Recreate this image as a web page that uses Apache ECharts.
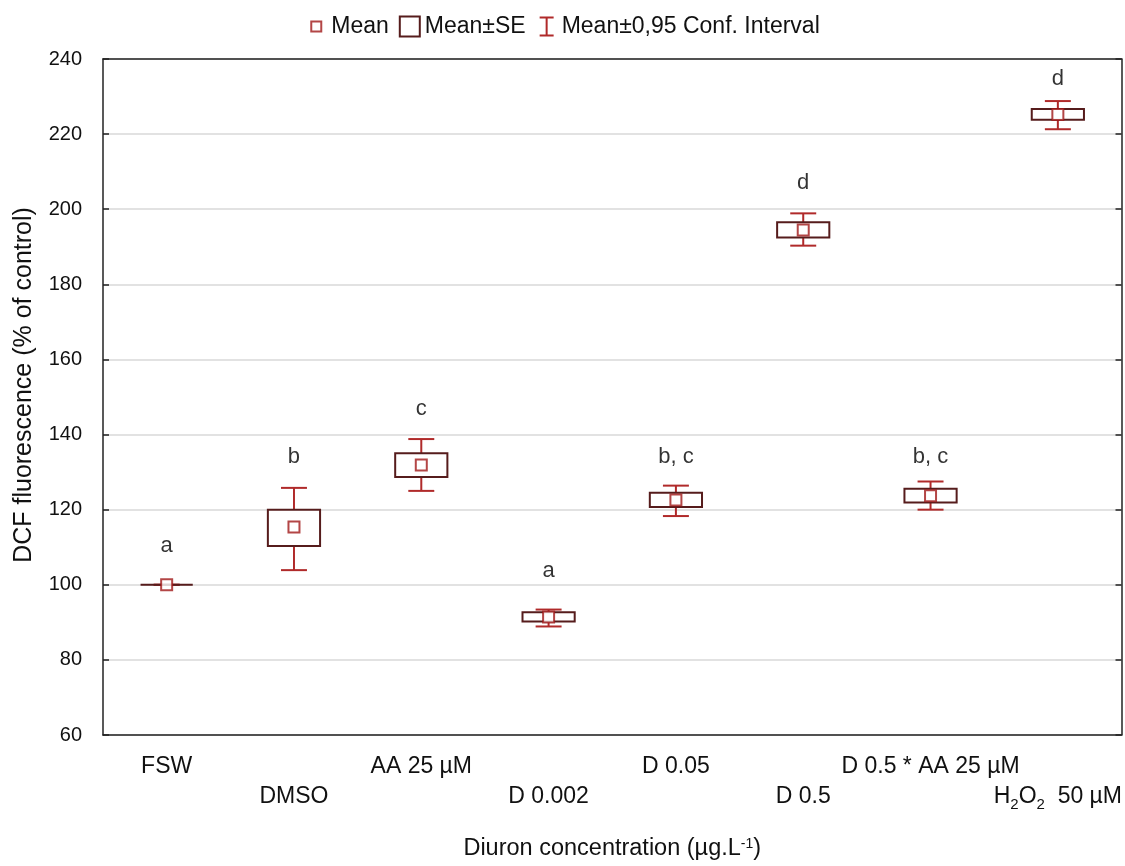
<!DOCTYPE html>
<html>
<head>
<meta charset="utf-8">
<script src="https://cdn.jsdelivr.net/npm/echarts@6/dist/echarts.min.js"></script>
<style>
html,body{margin:0;padding:0;background:#fff;}
#chart{width:1125px;height:866px;}
</style>
</head>
<body>
<div id="chart"></div>
<script>
// ---- data ----
const categories = ['FSW', 'DMSO', 'AA 25 µM', 'D 0.002', 'D 0.05', 'D 0.5', 'D 0.5 * AA 25 µM', 'H2O2  50 µM'];
const meanValues = [100, 115.4, 131.9, 91.4, 122.6, 194.5, 123.7, 225.2];
const seLow      = [100, 110.3, 128.7, 90.2, 120.7, 192.5, 121.9, 223.8];
const seHigh     = [100, 120.0, 135.0, 92.7, 124.5, 196.5, 125.6, 226.7];
const ciLow      = [100, 103.9, 125.0, 88.9, 118.3, 190.3, 120.0, 221.3];
const ciHigh     = [100, 125.8, 138.8, 93.4, 126.4, 198.9, 127.5, 228.8];
const groupLetters = ['a', 'b', 'c', 'a', 'b, c', 'd', 'b, c', 'd'];
const letterHeights = [110.4, 134.1, 146.8, 103.8, 134.1, 207.1, 134.1, 234.6];
const yTicks = { min: 60, max: 240, interval: 20 };

const FONT = 'Liberation Sans, Arial, sans-serif';
const RED = '#b02a2a';
const MEANRED = '#a01818';
const BROWN = '#561c1c';

const chart = echarts.init(document.getElementById('chart'));

function boxItem(params, api) {
  const i = api.value(0);
  const top = api.coord([i, api.value(2)]);
  const bot = api.coord([i, api.value(1)]);
  const bw = api.size([1, 0])[0] * 0.41;
  return {
    type: 'rect',
    shape: { x: top[0] - bw / 2, y: top[1], width: bw, height: Math.max(bot[1] - top[1], 0) },
    style: { fill: '#fff', stroke: BROWN, lineWidth: 2 }
  };
}
function ciItem(params, api) {
  const i = api.value(0);
  const top = api.coord([i, api.value(2)]);
  const bot = api.coord([i, api.value(1)]);
  const hw = api.size([1, 0])[0] * 0.102;
  const st = { stroke: RED, lineWidth: 2 };
  return {
    type: 'group',
    children: [
      { type: 'line', shape: { x1: top[0], y1: top[1], x2: bot[0], y2: bot[1] }, style: st },
      { type: 'line', shape: { x1: top[0] - hw, y1: top[1], x2: top[0] + hw, y2: top[1] }, style: st },
      { type: 'line', shape: { x1: bot[0] - hw, y1: bot[1], x2: bot[0] + hw, y2: bot[1] }, style: st }
    ]
  };
}

const option = {
  backgroundColor: '#fff',
  animation: false,
  textStyle: { fontFamily: FONT },
  legend: {
    top: 10,
    left: 'center',
    itemWidth: 20,
    itemHeight: 20,
    itemGap: 10,
    textStyle: { fontSize: 23, color: '#111', fontFamily: FONT },
    data: [
      { name: 'Mean', icon: 'path://M0,0 M20,20 M5,5 L15,5 L15,15 L5,15 Z',
        itemStyle: { color: 'rgba(0,0,0,0)', borderColor: MEANRED, borderWidth: 2 } },
      { name: 'Mean±SE', icon: 'path://M1,1 L19,1 L19,19 L1,19 Z',
        itemStyle: { color: 'rgba(0,0,0,0)', borderColor: BROWN, borderWidth: 2 } },
      { name: 'Mean±0,95 Conf. Interval', icon: 'path://M0,0 M20,20 M3,1 L17,1 M10,1 L10,19 M3,19 L17,19',
        itemStyle: { color: 'rgba(0,0,0,0)', borderColor: RED, borderWidth: 2 } }
    ]
  },
  grid: { left: 103, right: 3, top: 59, bottom: 129 },
  xAxis: [
    {
      type: 'category',
      data: categories,
      boundaryGap: true,
      axisLine: { lineStyle: { color: '#222', width: 1.5 } },
      axisTick: { inside: true, alignWithLabel: true, length: 6, lineStyle: { color: '#222', width: 1.5 } },
      axisLabel: {
        interval: 0,
        margin: 17,
        color: '#111',
        fontSize: 23,
        fontFamily: FONT,
        lineHeight: 30,
        formatter: function (v, idx) {
          let t = v;
          if (v.indexOf('H2O2') === 0) {
            t = 'H{s|2}O{s|2}' + v.slice(4);
          }
          return (idx % 2 === 1 ? '\n' : '') + t;
        },
        rich: {
          s: { fontSize: 15, fontFamily: FONT, color: '#111', verticalAlign: 'bottom', padding: [10, 0, 0, 0] }
        }
      },
      splitLine: { show: false },
      name: 'Diuron concentration (µg.L{sup|-1})',
      nameLocation: 'middle',
      nameGap: 102,
      nameTextStyle: {
        fontSize: 23.5, color: '#111', fontFamily: FONT,
        rich: { sup: { fontSize: 14, color: '#111', fontFamily: FONT, verticalAlign: 'top', padding: [0, 0, 10, 0] } }
      }
    },
    {
      type: 'category',
      data: categories,
      position: 'top',
      boundaryGap: true,
      axisLine: { lineStyle: { color: '#222', width: 1.5 } },
      axisTick: { inside: true, alignWithLabel: true, length: 6, lineStyle: { color: '#222', width: 1.5 } },
      axisLabel: { show: false },
      splitLine: { show: false }
    }
  ],
  yAxis: [
    {
      type: 'value',
      min: yTicks.min, max: yTicks.max, interval: yTicks.interval,
      axisLine: { show: true, lineStyle: { color: '#222', width: 1.5 } },
      axisTick: { show: true, inside: true, length: 6, lineStyle: { color: '#222', width: 1.5 } },
      axisLabel: { color: '#111', fontSize: 20, fontFamily: FONT, margin: 21 },
      splitLine: { show: true, lineStyle: { color: '#d9d9d9', width: 1.5 } },
      name: 'DCF fluorescence (% of control)',
      nameLocation: 'middle',
      nameGap: 66,
      nameTextStyle: { fontSize: 25, color: '#111', fontFamily: FONT, padding: [0, 0, 0, 24] }
    },
    {
      type: 'value',
      position: 'right',
      min: yTicks.min, max: yTicks.max, interval: yTicks.interval,
      axisLine: { show: true, lineStyle: { color: '#222', width: 1.5 } },
      axisTick: { show: true, inside: true, length: 6, lineStyle: { color: '#222', width: 1.5 } },
      axisLabel: { show: false },
      splitLine: { show: false }
    }
  ],
  series: [
    {
      name: 'Mean±0,95 Conf. Interval',
      type: 'custom',
      renderItem: ciItem,
      itemStyle: { color: RED },
      encode: { x: 0, y: [1, 2] },
      data: categories.map((c, i) => [i, ciLow[i], ciHigh[i]]),
      z: 2
    },
    {
      name: 'Mean±SE',
      type: 'custom',
      renderItem: boxItem,
      itemStyle: { color: BROWN },
      encode: { x: 0, y: [1, 2] },
      data: categories.map((c, i) => [i, seLow[i], seHigh[i]]),
      z: 3
    },
    {
      name: 'Mean',
      type: 'scatter',
      symbol: 'rect',
      symbolSize: 11,
      itemStyle: { color: '#fff', borderColor: MEANRED, borderWidth: 2 },
      data: meanValues.map((v, i) => [i, v]),
      z: 4
    },
    {
      name: 'letters',
      type: 'scatter',
      symbolSize: 0,
      silent: true,
      label: {
        show: true,
        position: 'inside',
        fontSize: 22,
        color: '#000',
        fontFamily: FONT,
        formatter: p => groupLetters[p.dataIndex]
      },
      data: letterHeights.map((v, i) => [i, v]),
      z: 5
    }
  ]
};
chart.setOption(option);
</script>
</body>
</html>
